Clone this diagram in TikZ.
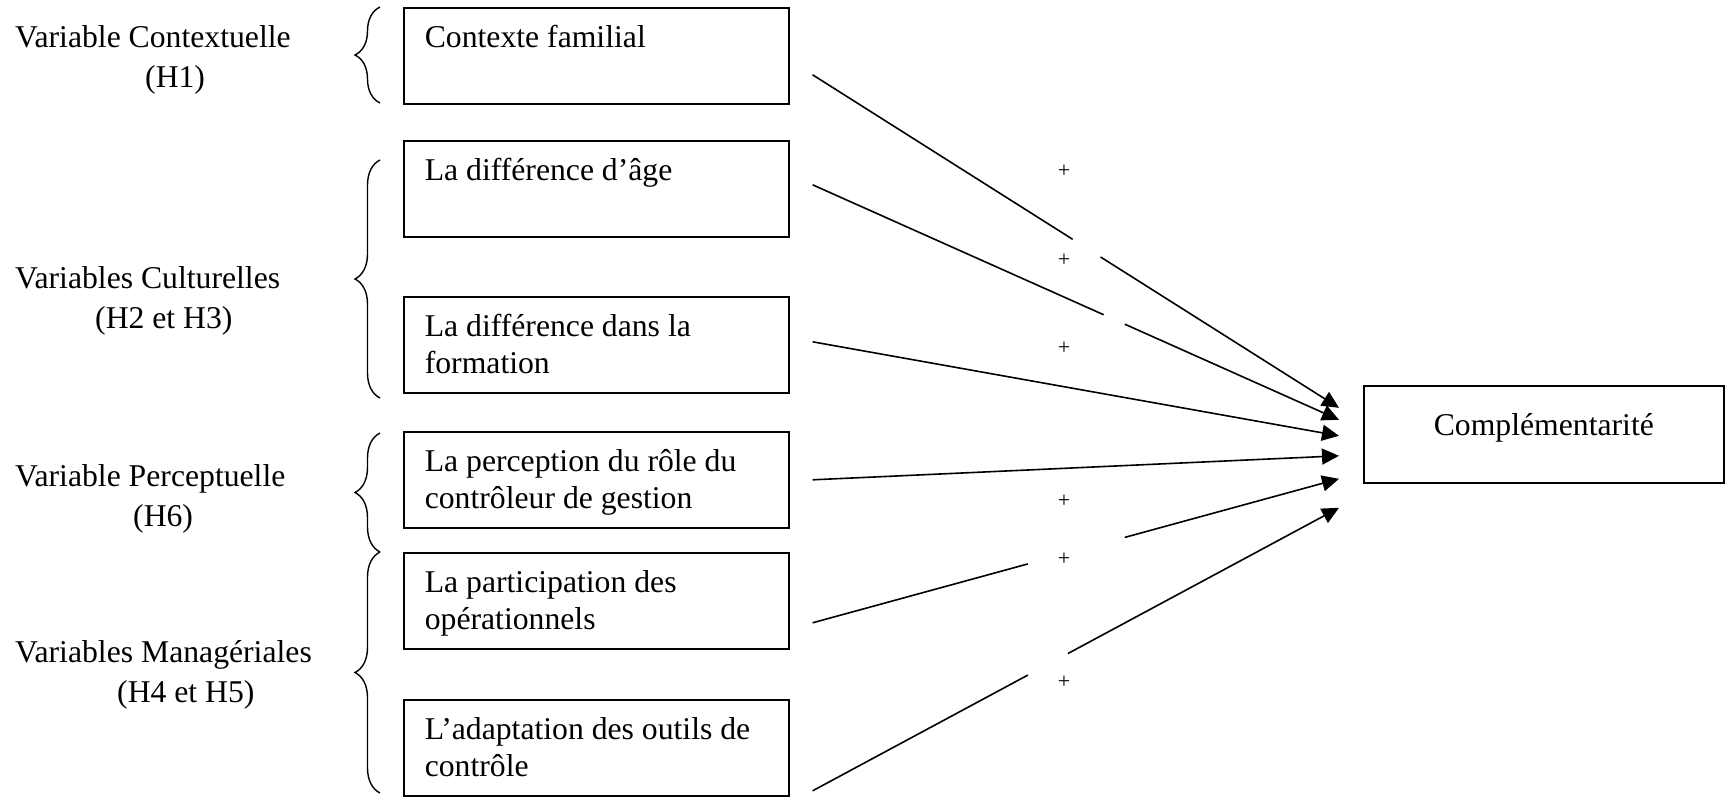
\documentclass[tikz,border=0pt]{standalone}
\usepackage{fontspec}
\setmainfont{Liberation Serif}
\usetikzlibrary{calc,arrows.meta,decorations.pathreplacing}

\tikzset{
    varbox/.style={draw, line width=1.6pt, anchor=north west, inner xsep=21pt, inner ysep=14.6pt},
    grplabel/.style={anchor=north west, inner sep=0pt, align=left, font=\fontsize{31.7}{40.7}\selectfont},
    plus/.style={inner sep=0pt, font=\fontsize{22}{24}\selectfont},
    link/.style={line width=1.6pt, -{Triangle[length=17pt,width=16pt]}},
    grpbrace/.style={decorate, decoration={brace, amplitude=25pt}, line width=1.4pt}
}
\newcommand{\boxtxt}[1]{\parbox[t][66.8pt][t]{343pt}{\raggedright\strut#1}}

\begin{document}
\begin{tikzpicture}[x=1pt, y=-1pt, font=\fontsize{31.7}{36.3}\selectfont]
    \useasboundingbox (0,0) rectangle (1725,796);

    %group labels on the left
        \node[grplabel] (ctxlab) at (15,25) {Variable Contextuelle\\\hspace*{130pt}(H1)};
        \node[grplabel] (cultlab) at (15,266) {Variables Culturelles\\\hspace*{80pt}(H2 et H3)};
        \node[grplabel] (perclab) at (15,464) {Variable Perceptuelle\\\hspace*{118pt}(H6)};
        \node[grplabel] (manlab) at (15,640) {Variables Manag\'eriales\\\hspace*{102pt}(H4 et H5)};

    %braces
        \draw[grpbrace] (380,103) -- (380,7);
        \draw[grpbrace] (380,398) -- (380,160);
        \draw[grpbrace] (380,552) -- (380,433);
        \draw[grpbrace] (380,793) -- (380,552);

    %variable boxes
        \node[varbox] (ctx) at (403,7) {\boxtxt{Contexte familial}};
        \node[varbox] (age) at (403,140) {\boxtxt{La différence d’âge}};
        \node[varbox] (form) at (403,296) {\boxtxt{La différence dans la\\formation}};
        \node[varbox] (perc) at (403,431) {\boxtxt{La perception du rôle du\\contrôleur de gestion}};
        \node[varbox] (part) at (403,552) {\boxtxt{La participation des\\opérationnels}};
        \node[varbox] (adapt) at (403,699) {\boxtxt{L’adaptation des outils de\\contrôle}};
        \node[draw, line width=1.6pt, anchor=north west, minimum width=360pt, inner sep=0pt,
              text height=50pt, text depth=47pt] (comp) at (1363,385) {Complémentarité};

    %start and end points of the arrows
        \coordinate (s1) at ($(ctx.east)+(23,19)$);
        \coordinate (s2) at ($(age.east)+(23,-4)$);
        \coordinate (s3) at ($(form.east)+(23,-3)$);
        \coordinate (s4) at ($(perc.east)+(23,0)$);
        \coordinate (s5) at ($(part.east)+(23,22)$);
        \coordinate (s6) at ($(adapt.east)+(23,43)$);
        \coordinate (e1) at ($(comp.west)+(-24,-26.5)$);
        \coordinate (e2) at ($(comp.west)+(-24,-14.5)$);
        \coordinate (e3) at ($(comp.west)+(-24,1.5)$);
        \coordinate (e4) at ($(comp.west)+(-24,21.5)$);
        \coordinate (e5) at ($(comp.west)+(-24,44.5)$);
        \coordinate (e6) at ($(comp.west)+(-24,73.5)$);

    %arrows, some broken where the signs sit
        \foreach \i/\a/\b in {1/.494/.547, 2/.553/.593, 5/.409/.593, 6/.409/.485}{
            \draw[line width=1.6pt] (s\i) -- ($(s\i)!\a!(e\i)$);
            \draw[link] ($(s\i)!\b!(e\i)$) -- (e\i);
        }
        \draw[link] (s3) -- (e3);
        \draw[link] (s4) -- (e4);

    %signs
        \node[plus] (p1) at (1064,171) {+};
        \node[plus] (p2) at (1064,260) {+};
        \node[plus] (p3) at (1064,348) {+};
        \node[plus] (p4) at (1064,501) {+};
        \node[plus] (p5) at (1064,559) {+};
        \node[plus] (p6) at (1064,682) {+};

\end{tikzpicture}
\end{document}
